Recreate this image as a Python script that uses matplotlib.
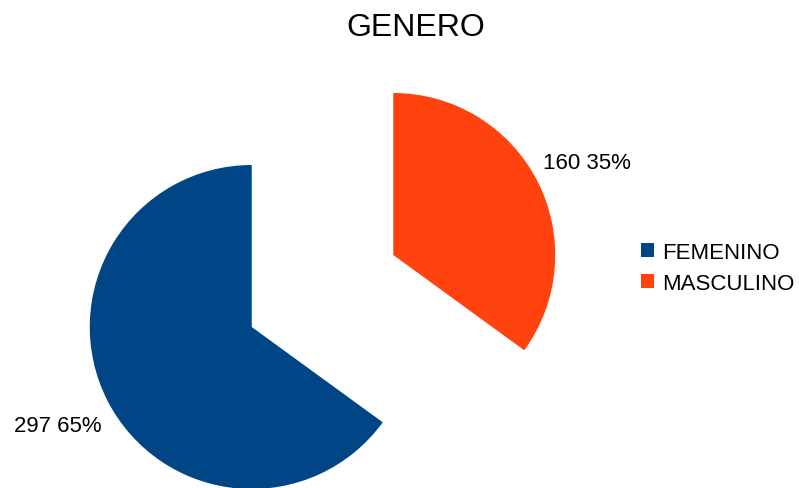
import matplotlib
matplotlib.use("Agg")
import matplotlib.pyplot as plt
from matplotlib.patches import Patch

plt.rcParams['font.family'] = ['Liberation Sans', 'DejaVu Sans']

title = "GENERO"
categories = ["FEMENINO", "MASCULINO"]
values = [297, 160]
colors = ["#004586", "#ff420e"]

W, H = 799, 489
R = 162
fig = plt.figure(figsize=(W / 100, H / 100), dpi=100)
ax = fig.add_axes([0, 0, 1, 1])

total = sum(values)
labels = [f"{v} {round(v / total * 100)}%" for v in values]

wedges, texts = ax.pie(values, colors=colors, startangle=90, counterclock=True,
                       explode=[0.49 * R, 0.49 * R], radius=R, center=(322.5, 197),
                       labels=labels, labeldistance=1.34,
                       textprops=dict(fontsize=16, color='black'),
                       wedgeprops=dict(linewidth=0), frame=True)
for t in texts:
    t.set_ha('center')
    t.set_va('center')
# slight downward nudge of the right label, as in the reference
x, y = texts[1].get_position()
texts[1].set_position((x, y - 6))

ax.set_xlim(0, W)
ax.set_ylim(0, H)
ax.set_aspect('equal')
ax.axis('off')

fig.text(416 / W, 1 - 28 / H, title, fontsize=23, ha='center', va='center')

handles = [Patch(facecolor=c, edgecolor='none') for c in colors]
fig.legend(handles, categories, loc='center left',
           bbox_to_anchor=(641 / W, 1 - 269 / H), frameon=False,
           fontsize=16, handlelength=0.6, handleheight=0.6,
           handletextpad=0.35, labelspacing=0.45, borderpad=0, borderaxespad=0)

fig.savefig("out.png", dpi=100)
